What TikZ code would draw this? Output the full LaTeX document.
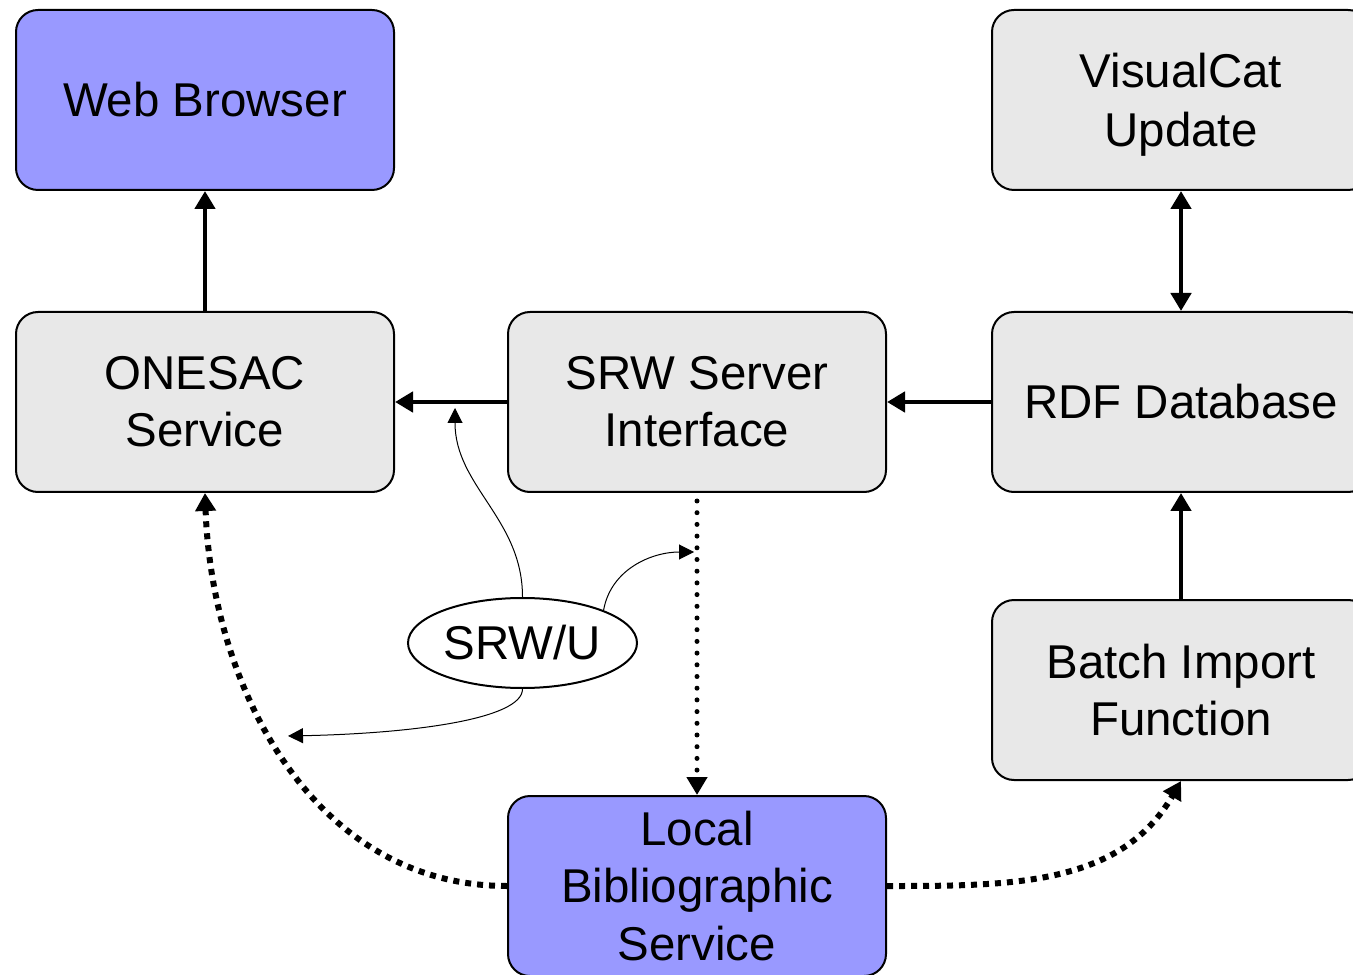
\documentclass[tikz,border=0pt]{standalone}
\usepackage{fontspec}
\setmainfont{Liberation Sans}
\usepackage{tikz}
\usetikzlibrary{arrows.meta,shapes.geometric}

\definecolor{boxgrey}{HTML}{E8E8E8}
\definecolor{boxblue}{HTML}{9999FF}

\tikzset{
  module/.style={draw, line width=0.04cm, rounded corners=0.44cm, fill=boxgrey,
    minimum width=7.56cm, minimum height=3.6cm, inner sep=0pt, align=center,
    font=\fontsize{27}{32.5}\selectfont},
  client/.style={module, fill=boxblue},
  proto/.style={draw, ellipse, line width=0.04cm, minimum width=4.58cm,
    minimum height=1.8cm, inner sep=0pt, font=\fontsize{27}{32.5}\selectfont},
  bigtip/.tip={Triangle[length=0.36cm,width=0.4cm]},
  flow/.style={line width=0.095cm, -bigtip},
  query/.style={line width=0.12cm, dash pattern=on 0.12cm off 0.12cm, -bigtip},
  lookup/.style={line width=0.1cm, line cap=round, dash pattern=on 0pt off 0.234cm, -bigtip},
  thin/.style={line width=0.02cm, -{Triangle[length=0.3cm,width=0.3cm]}}
}

\begin{document}
\begin{tikzpicture}
    \useasboundingbox (0,0) rectangle (27.06,19.48);
    \node[client] (browser) at (4.1, 17.48) {Web Browser};
    \node[module] (onesac) at (4.1, 11.44) {ONESAC\\Service};
    \node[module] (srw) at (13.94, 11.44) {SRW Server\\Interface};
    \node[module] (rdf) at (23.62, 11.44) {RDF Database};
    \node[module] (visualcat) at (23.62, 17.48) {VisualCat\\[0.04cm]\raisebox{0pt}[\height][0pt]{Update}};
    \node[module] (batch) at (23.62, 5.68) {Batch Import\\Function};
    \node[client] (localbib) at (13.94, 1.76) {Local\\Bibliographic\\Service};
    \node[proto] (srwu) at (10.45, 6.62) {SRW/U};

    % main data flow
    \draw[flow] (onesac) -- (browser);
    \draw[flow] (srw) -- (onesac);
    \draw[flow] (rdf) -- (srw);
    \draw[flow, bigtip-bigtip] (rdf) -- (visualcat);
    \draw[flow] (batch) -- (rdf);

    % queries to the local service
    \draw[lookup] ([yshift=-0.16cm]srw.south) -- (localbib);
    \draw[query] (localbib.west) to[out=180, in=-88] (onesac.south);
    \draw[query] (localbib.east) to[out=0, in=-120] (batch.south);

    % protocol labels
    \coordinate (onesacin) at (9.1, 11.32);
    \coordinate (lookupin) at (13.88, 8.44);
    \coordinate (queryin) at (5.76, 4.76);
    \draw[thin] (srwu.north) to[out=90, in=-90] (onesacin);
    \draw[thin] (srwu.22) to[out=80, in=180] (lookupin);
    \draw[thin] (srwu.south) .. controls +(0,-0.6) and +(2.5,0.05) .. (queryin);
  \end{tikzpicture}
\end{document}
